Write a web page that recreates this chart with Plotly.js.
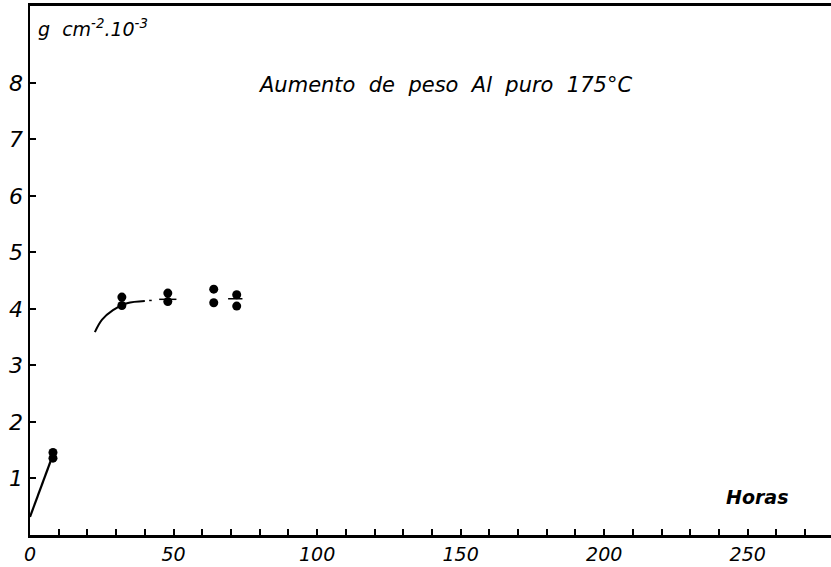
<!DOCTYPE html>
<html><head><meta charset="utf-8">
<script src="https://cdn.plot.ly/plotly-3.0.1.min.js"></script>
<style>html,body{margin:0;padding:0;background:#fff}#c{width:831px;height:567px}</style>
</head><body><div id="c"></div>
<script>
// Data
const rampX = [0, 8];
const rampY = [0.32, 1.42];
const curveX = [22.6, 25.1, 28.9, 33.8, 40];
const curveY = [3.59, 3.81, 3.98, 4.1, 4.14];
const dashX = [41.5, 42.4, null, 45, 51, null, 69, 74];
const dashY = [4.15, 4.15, null, 4.17, 4.17, null, 4.18, 4.18];
const ptsX = [8, 8, 32, 32, 48, 48, 64, 64, 72, 72];
const ptsY = [1.36, 1.46, 4.21, 4.06, 4.28, 4.13, 4.35, 4.11, 4.25, 4.05];
const xTickVals = [0, 50, 100, 150, 200, 250];
const yTickVals = [1, 2, 3, 4, 5, 6, 7, 8];

const F = 'DejaVu Sans, sans-serif';
const data = [
  {x: rampX, y: rampY, mode: 'lines', line: {color: '#000', width: 2.2}, hoverinfo: 'skip'},
  {x: curveX, y: curveY, mode: 'lines', line: {color: '#000', width: 2, shape: 'spline'}, hoverinfo: 'skip'},
  {x: dashX, y: dashY, mode: 'lines', line: {color: '#000', width: 1.5}, connectgaps: false, hoverinfo: 'skip'},
  {x: ptsX, y: ptsY, mode: 'markers', marker: {color: '#000', size: 9}, hoverinfo: 'skip'}
];
const layout = {
  width: 831, height: 567,
  margin: {l: 30, r: 0, t: 6, b: 32},
  paper_bgcolor: '#fff', plot_bgcolor: '#fff',
  showlegend: false,
  font: {family: F, color: '#000'},
  xaxis: {
    range: [0, 279], showgrid: false, zeroline: false,
    showline: true, linecolor: '#000', linewidth: 3, mirror: true,
    ticks: 'inside', ticklen: 6, tickwidth: 2, tickcolor: '#000',
    tickvals: xTickVals, ticktext: xTickVals.map(v => '<i>' + v + '</i>'),
    tickfont: {size: 19, family: F}, ticklabelstandoff: 0,
    minor: {dtick: 10, ticks: 'inside', ticklen: 6, tickwidth: 2, tickcolor: '#000', showgrid: false}
  },
  yaxis: {
    range: [0, 9.36], showgrid: false, zeroline: false,
    showline: true, linecolor: '#000', linewidth: 2.5,
    ticks: 'inside', ticklen: 6, tickwidth: 2, tickcolor: '#000',
    tickvals: yTickVals, ticktext: yTickVals.map(v => '<i>' + v + '</i>'),
    tickfont: {size: 22, family: F}, ticklabelstandoff: 0
  },
  annotations: [
    {text: '<i>Aumento  de  peso  Al  puro  175°C</i>', xref: 'paper', yref: 'paper',
     x: 0.518, y: 0.85, xanchor: 'center', yanchor: 'middle', showarrow: false,
     font: {size: 21, family: F}},
    {text: '<i>g  cm<sup>-2</sup>.10<sup>-3</sup></i>', xref: 'paper', yref: 'paper',
     x: 0.008, y: 0.958, xanchor: 'left', yanchor: 'middle', showarrow: false,
     font: {size: 19, family: F}},
    {text: '<b><i>Horas</i></b>', xref: 'paper', yref: 'paper',
     x: 0.907, y: 0.072, xanchor: 'center', yanchor: 'middle', showarrow: false,
     font: {size: 19, family: F}}
  ]
};
Plotly.newPlot('c', data, layout, {staticPlot: true, displayModeBar: false});
</script></body></html>
